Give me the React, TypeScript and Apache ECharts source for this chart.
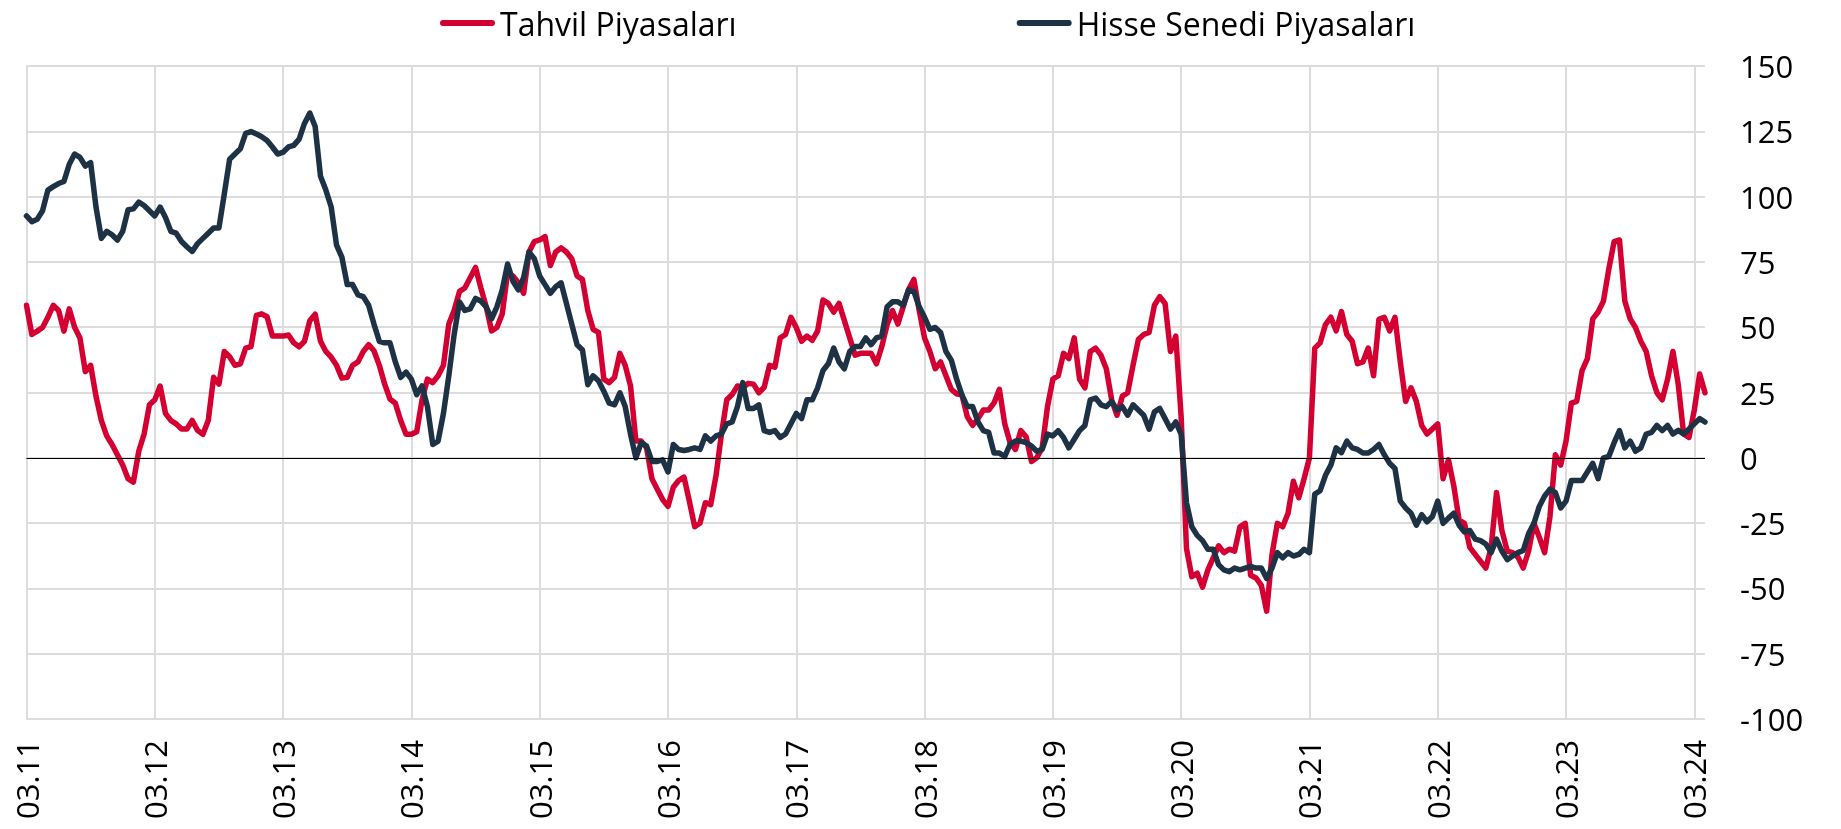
import React, { useEffect, useRef } from "react";
import * as echarts from "echarts";

const seriesNames = ["Tahvil Piyasaları", "Hisse Senedi Piyasaları"];
const seriesColors = ["#d50032", "#1e3246"];

// Half-monthly readings, March 2011 .. April 2024 (Tahvil Piyasaları)
const tahvil = [
  58.4, 47.2, 48.5, 49.9, 53.8, 58.4, 56.4, 48.5, 57, 50,
  45.9, 33, 35.4, 23.6, 14.3, 8.4, 5.1, 1.2, -2.8, -8,
  -9.3, 2.5, 9.1, 20.3, 22.2, 27.5, 17, 14.3, 13, 11,
  11, 14.3, 10.5, 9, 14.3, 30.8, 28.2, 40.7, 38.7, 35.4,
  36, 42, 42.6, 54.5, 55.1, 54, 46.6, 46.6, 46.6, 47,
  44, 42.5, 44.6, 52.5, 55, 44.6, 40.7, 38.5, 35.4, 30.5,
  30.8, 35.4, 36.7, 40.7, 43.3, 41, 35.4, 28.2, 22.5, 20.9,
  14.3, 9, 9, 10, 22.2, 30.1, 28.8, 31.4, 35.4, 51.2,
  56.4, 63.7, 65, 68.9, 72.9, 65, 57.8, 48.6, 49.9, 55.1,
  70.9, 69.6, 67, 63, 78.8, 82.8, 83.4, 84.7, 73.6, 78.8,
  80.4, 78.8, 76.2, 69.6, 68.3, 56.4, 49.2, 48, 30.1, 28.8,
  30.8, 40, 35.4, 27.5, 6.4, 6.4, 3.8, -8, -12, -16,
  -18.6, -11.3, -8.7, -7.4, -16.6, -26.4, -25, -17.2, -17.9, -6.7,
  9.1, 22.2, 24.2, 27.5, 26.8, 28.5, 28.2, 24.9, 27, 35.4,
  34.7, 45.9, 47.2, 53.8, 49.9, 44.6, 46.6, 45, 48.6, 60.4,
  59.1, 55.8, 59.1, 52.5, 45.9, 39.3, 40, 40, 40, 36,
  42.6, 51, 56.4, 51.2, 57.8, 64.3, 68.3, 56.4, 45.9, 40.7,
  34.1, 36.7, 31.4, 26.2, 24.5, 24, 15.7, 12.4, 15, 18.3,
  18.3, 21, 26.2, 13, 5.8, 3.2, 10.4, 8, -1.4, 0,
  3.8, 19.6, 30.1, 31.4, 40, 38, 45.9, 30.1, 26.8, 40.7,
  42, 39.3, 34.1, 22.2, 16.3, 23.6, 24.9, 35.4, 45.3, 47.2,
  48, 58.4, 61.7, 59.1, 40.7, 46.6, 15.7, -34.7, -45.5, -44.2,
  -49.5, -42.9, -38.3, -33.7, -36.3, -35, -35.7, -26.4, -25.1, -45,
  -46, -48.8, -58.7, -37, -25.1, -26.4, -21.2, -9, -15.3, -8,
  0, 42, 44, 51, 53.8, 48.6, 56, 47.2, 44.6, 36,
  36.7, 42, 31.4, 53, 53.8, 48.6, 53.8, 36.7, 21.6, 26.8,
  21.6, 12.4, 9.1, 11, 13, -8, -0.8, -10.7, -23.8, -25.1,
  -34.3, -37, -39.6, -42.2, -34.3, -13.3, -27.8, -35.7, -36.3, -38,
  -42.2, -35.7, -25, -30.4, -36.3, -22.5, 1.2, -2.8, 6.4, 20.9,
  21.6, 33.4, 38, 53.2, 55.8, 60, 72.2, 82.8, 83.4, 60,
  53.2, 49.9, 44.6, 40.7, 31.4, 24.9, 22.2, 30.1, 40.7, 28,
  9.1, 7.8, 18.3, 32.1, 24.9,
];

// Half-monthly readings, March 2011 .. April 2024 (Hisse Senedi Piyasaları)
const hisse = [
  92.6, 90.4, 91.3, 94.6, 102.5, 103.8, 105, 105.8, 112.4, 116.3,
  115, 111.7, 113, 96, 84, 86.7, 85.4, 83.4, 86.7, 95,
  95.3, 97.9, 96.6, 94.6, 92.6, 96, 92, 86.7, 86, 82.8,
  80.8, 79, 82, 84, 86, 88, 88, 101, 114.3, 116.3,
  118.3, 124.2, 124.9, 124, 122.9, 121.5, 119, 116.3, 117, 119,
  119.6, 122, 128, 132, 126.8, 107.8, 102.5, 96, 81.4, 76.8,
  66.3, 66.3, 62.4, 61.7, 58.4, 51.2, 44.6, 44, 44, 36.7,
  30.8, 32.8, 30.1, 24.2, 27.5, 19.6, 5.1, 6.4, 17, 31.4,
  47.2, 59.7, 56.4, 57, 61, 60, 57.8, 53.2, 57.8, 64.3,
  74.2, 67.6, 64.3, 69, 78.8, 76.2, 69.6, 66.3, 63, 65.5,
  67, 59.1, 51.2, 43.3, 41.3, 28, 31.4, 29.5, 25.5, 20.9,
  20.3, 24.9, 19.6, 9, 0, 5.8, 4.5, -1.4, -1.4, -0.8,
  -5.4, 5.1, 3.2, 2.8, 3.2, 3.8, 3.2, 8.4, 6.4, 8.4,
  9.1, 13, 13.7, 19.6, 28.8, 18.9, 18.9, 20.3, 10.4, 9.7,
  10.4, 7.8, 9.1, 13, 17, 15, 22.2, 22.2, 26.8, 33.4,
  36, 42, 36.7, 34.1, 40.7, 42.6, 42.6, 45.9, 43.3, 45.9,
  46.6, 57.8, 59.7, 59.7, 58.4, 64.3, 63.7, 57.8, 53.8, 49.2,
  49.9, 48, 40.7, 37.4, 30.1, 24, 19.6, 19.6, 13.7, 10.4,
  9.7, 1.8, 1.8, 0.5, 5.1, 6.4, 6.4, 5.8, 4.5, 2.5,
  3.2, 9.1, 8.4, 10.4, 7.8, 3.8, 7.1, 10.4, 12.4, 22.2,
  22.9, 20.3, 19.6, 21.6, 18.3, 19.6, 16.3, 20.3, 18.3, 16.3,
  11, 17.6, 18.9, 15, 11, 13.7, 9.1, -17.2, -26.4, -29.7,
  -31.7, -35, -35, -40.9, -42.9, -43.6, -42.2, -42.9, -42.2, -41.6,
  -42.2, -42.2, -46.2, -42.2, -36.3, -38.3, -36.3, -37.6, -37, -35,
  -36.3, -13.9, -12.6, -6.7, -2.8, 3.8, 2, 6.4, 3.8, 3.2,
  1.8, 1.8, 3.2, 5.1, 1.2, -2.1, -4.1, -16.6, -19.2, -21.2,
  -25.8, -21.8, -24.5, -22.5, -16.6, -25.1, -23.1, -21.2, -25.8, -28.4,
  -27.8, -31.1, -31.7, -33, -36.3, -31.1, -35.7, -39, -37.6, -36.3,
  -35.5, -29, -25.1, -18.6, -14.6, -12, -13.3, -19.2, -16.6, -8.7,
  -8.7, -8.7, -5.4, -2.1, -8, 0, 0.5, 5.8, 10.4, 3.8,
  6.4, 2.5, 3.8, 9.1, 9.7, 12.4, 10.4, 12.4, 9.1, 10.5,
  9.1, 11, 13, 15, 13.7,
];

const yMin = -100;
const yMax = 150;
const yStep = 25;

// Category dates: half-month steps starting 2011-03-01
const dates: string[] = [];
for (let i = 0; i < tahvil.length; i++) {
  const total = 2 + Math.floor(i / 2);
  const y = 2011 + Math.floor(total / 12);
  const m = (total % 12) + 1;
  const d = i % 2 === 0 ? "01" : "16";
  dates.push(`${y}-${String(m).padStart(2, "0")}-${d}`);
}
const isMarchStart = (_i: number, v: string) => v.slice(5) === "03-01";

const FONT = "'Open Sans', 'Noto Sans', sans-serif";
const ICON = "path://M3,0 L52,0 A3,3 0 0 1 52,6 L3,6 A3,3 0 0 1 3,0 Z";

export default function App() {
  const ref = useRef<HTMLDivElement>(null);
  useEffect(() => {
    if (!ref.current) return;
    const chart = echarts.init(ref.current, undefined, { renderer: "svg" });
    chart.setOption({
      animation: false,
      textStyle: { fontFamily: FONT },
      legend: {
        data: seriesNames,
        top: 2,
        left: 435,
        itemGap: 280,
        itemWidth: 55,
        itemHeight: 6,
        icon: ICON,
        textStyle: { fontSize: 32, color: "#000", fontFamily: FONT },
      },
      grid: { left: 26.5, right: 136, top: 66, bottom: 110, containLabel: false },
      xAxis: {
        type: "category",
        data: dates,
        boundaryGap: false,
        axisLine: { show: false, onZero: false },
        axisTick: { show: false },
        axisLabel: {
          interval: isMarchStart,
          rotate: 90,
          margin: 21,
          fontSize: 31,
          color: "#000",
          fontFamily: FONT,
          formatter: (v: string) => `${v.slice(5, 7)}.${v.slice(2, 4)}`,
        },
        splitLine: {
          show: true,
          interval: isMarchStart,
          lineStyle: { color: "#dcdcdc", width: 2 },
        },
      },
      yAxis: {
        type: "value",
        position: "right",
        min: yMin,
        max: yMax,
        interval: yStep,
        axisLine: { show: false },
        axisTick: { show: false },
        axisLabel: { fontSize: 31, color: "#000", margin: 35, fontFamily: FONT },
        splitLine: { lineStyle: { color: "#dcdcdc", width: 2 } },
      },
      series: [
        {
          type: "line",
          name: "zero",
          data: [],
          silent: true,
          z: 1,
          markLine: {
            silent: true,
            symbol: ["none", "none"],
            label: { show: false },
            lineStyle: { color: "#000", width: 1, type: "solid" },
            emphasis: { disabled: true },
            data: [{ yAxis: 0 }],
          },
        },
        {
          type: "line",
          name: seriesNames[0],
          data: tahvil,
          showSymbol: false,
          symbol: "none",
          color: seriesColors[0],
          lineStyle: { width: 5.5, color: seriesColors[0], join: "round", cap: "round" },
          z: 2,
        },
        {
          type: "line",
          name: seriesNames[1],
          data: hisse,
          showSymbol: false,
          symbol: "none",
          color: seriesColors[1],
          lineStyle: { width: 5.5, color: seriesColors[1], join: "round", cap: "round" },
          z: 3,
        },
      ],
    });
    return () => chart.dispose();
  }, []);
  return (
    <div
      ref={ref}
      style={{ position: "fixed", left: 0, top: 0, width: 1841, height: 829 }}
    />
  );
}
